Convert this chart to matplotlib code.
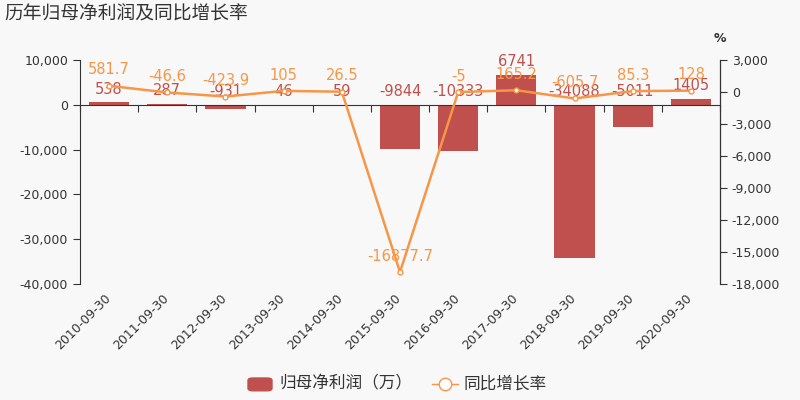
import matplotlib
matplotlib.use("Agg")
import matplotlib.pyplot as plt
import matplotlib.transforms as mtransforms
from matplotlib.ticker import FuncFormatter
from matplotlib.patches import FancyBboxPatch
from matplotlib.lines import Line2D
import numpy as np

plt.rcParams['font.family'] = ['DejaVu Sans', 'Noto Sans CJK SC']

dates = ["2010-09-30", "2011-09-30", "2012-09-30", "2013-09-30", "2014-09-30", "2015-09-30",
         "2016-09-30", "2017-09-30", "2018-09-30", "2019-09-30", "2020-09-30"]
profit = [538, 287, -931, 46, 59, -9844, -10333, 6741, -34088, -5011, 1405]
growth = [581.7, -46.6, -423.9, 105, 26.5, -16877.7, -5, 165.2, -605.7, 85.3, 128]
growth_text = ["581.7", "-46.6", "-423.9", "105", "26.5", "-16877.7", "-5", "165.2", "-605.7", "85.3", "128"]

bar_color = "#c0504d"
line_color = "#f79646"
bg = "#f8f8f8"
txt = "#333333"

fig = plt.figure(figsize=(8, 4), dpi=100, facecolor=bg)
ax = fig.add_axes([0.1, 0.29, 0.8, 0.56], facecolor=bg)
ax2 = ax.twinx()

x = np.arange(len(dates))
ax.bar(x, profit, width=0.69, color=bar_color, zorder=2)
ax.set_xlim(-0.5, len(dates) - 0.5)
ax.set_ylim(-40000, 10000)
ax.set_yticks(np.arange(-40000, 10001, 10000))
fmt = FuncFormatter(lambda v, p: f"{int(v):,}")
ax.yaxis.set_major_formatter(fmt)

for xi, v in zip(x, profit):
    y = v if v > 0 else 0
    ax.annotate(str(v), (xi, y), xytext=(0, 4), textcoords="offset points",
                ha="center", va="bottom", color=bar_color, fontsize=10.5)

ax2.plot(x, growth, color=line_color, lw=1.8, marker="o", ms=3.5,
         markerfacecolor="white", markeredgecolor=line_color, zorder=3)
ax2.set_ylim(-18000, 3000)
ax2.set_yticks(np.arange(-18000, 3001, 3000))
ax2.yaxis.set_major_formatter(fmt)
for xi, v, t in zip(x, growth, growth_text):
    ax2.annotate(t, (xi, v), xytext=(0, 6), textcoords="offset points",
                 ha="center", va="bottom", color=line_color, fontsize=10.5)

# x axis on zero line, ticks between categories
for a in (ax, ax2):
    a.spines['top'].set_visible(False)
ax2.spines['bottom'].set_visible(False)
ax.spines['bottom'].set_position(('data', 0))
ax.spines['bottom'].set_color(txt)
ax.spines['left'].set_color(txt)
ax2.spines['right'].set_color(txt)
ax2.spines['left'].set_visible(False)
ax.set_xticks(np.arange(-0.5, len(dates) + 0.5, 1))
ax.set_xticklabels([])
ax.tick_params(axis='x', length=5, color=txt)
ax.tick_params(axis='y', length=5, color=txt, labelsize=9, labelcolor=txt)
ax2.tick_params(axis='y', length=5, color=txt, labelsize=9, labelcolor=txt)

trans = mtransforms.blended_transform_factory(ax.transData, ax.transAxes)
for xi, d in zip(x, dates):
    ax.text(xi - 0.09, -0.035, d, transform=trans, rotation=45, ha="right", va="top",
            rotation_mode="anchor", fontsize=9, color=txt)

fig.text(0.006, 0.965, "历年归母净利润及同比增长率", fontsize=13.5, color=txt,
         ha="left", va="center", family=['Noto Sans CJK SC'], fontweight="medium")
fig.text(0.9, 0.905, "%", fontsize=9, color=txt, ha="center", va="center", fontweight="bold")

# legend
fig.patches.append(FancyBboxPatch((0.31, 0.023), 0.03, 0.032, boxstyle="round,pad=0,rounding_size=0.006",
                                  transform=fig.transFigure, color=bar_color, figure=fig))
fig.text(0.349, 0.04, "归母净利润（万）", fontsize=12, color=txt, va="center", ha="left",
         family=['Noto Sans CJK SC'])
fig.lines.append(Line2D([0.54, 0.572], [0.04, 0.04], color=line_color, lw=1,
                        transform=fig.transFigure))
fig.lines.append(Line2D([0.556], [0.04], color=line_color, marker="o", ms=9,
                        markerfacecolor="white", transform=fig.transFigure))
fig.text(0.579, 0.04, "同比增长率", fontsize=12, color=txt, va="center", ha="left",
         family=['Noto Sans CJK SC'])

fig.savefig("out.png", dpi=100, facecolor=bg)
